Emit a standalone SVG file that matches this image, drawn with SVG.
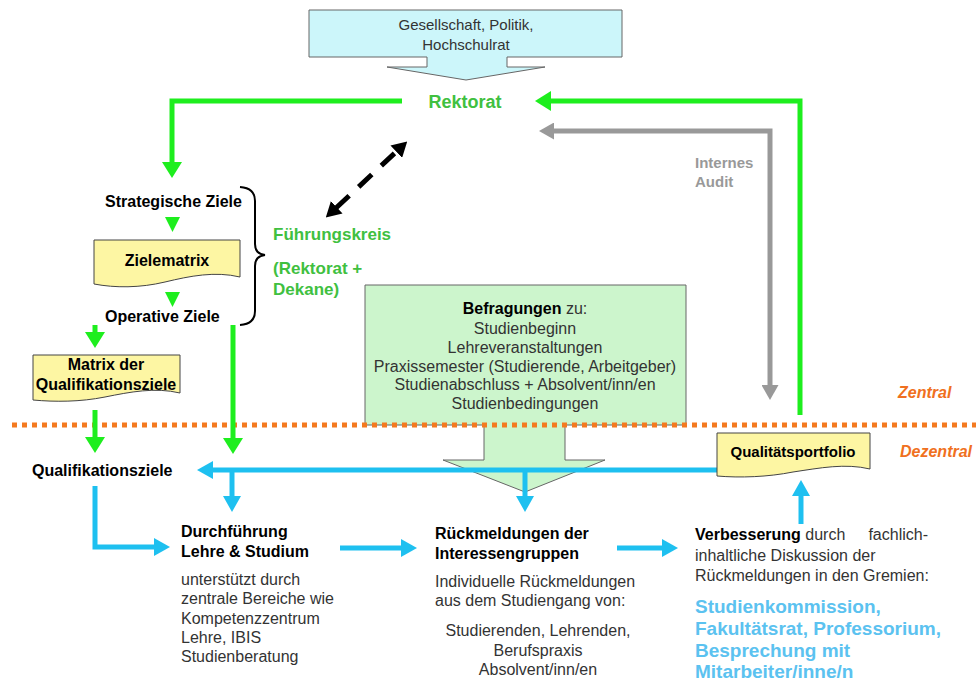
<svg xmlns="http://www.w3.org/2000/svg" width="976" height="684" viewBox="0 0 976 684">
<defs>
<style>
text{font-family:"Liberation Sans",Arial,sans-serif}
.b{font-weight:bold;fill:#000}
.n{fill:#333}
.f16{font-size:16px}
.f15{font-size:15px}
.gt{fill:#40c040;font-weight:bold}
.bt{fill:#5bc2f0;font-weight:bold;font-size:19px}
.or{fill:#f07020;font-weight:bold;font-style:italic;font-size:16px}
.gl{fill:none;stroke:#1eee1e;stroke-width:5}
.bl{fill:none;stroke:#1ec0f0;stroke-width:5}
.yl{fill:none;stroke:#999;stroke-width:5}
.doc{fill:#fdf6a3;stroke:#444;stroke-width:1}
</style>
<marker id="ag" viewBox="0 0 16 20" refX="1" refY="10" markerWidth="16" markerHeight="20" markerUnits="userSpaceOnUse" orient="auto"><path d="M0,0 L16,10 L0,20 Z" fill="#1eee1e"/></marker>
<marker id="ab" viewBox="0 0 16 18" refX="1" refY="9" markerWidth="16" markerHeight="18" markerUnits="userSpaceOnUse" orient="auto"><path d="M0,0 L16,9 L0,18 Z" fill="#1ec0f0"/></marker>
<marker id="ay" viewBox="0 0 15 17" refX="1" refY="8.5" markerWidth="15" markerHeight="17" markerUnits="userSpaceOnUse" orient="auto-start-reverse"><path d="M0,0 L15,8.5 L0,17 Z" fill="#999"/></marker>
<marker id="ak" viewBox="0 0 15 17" refX="1" refY="8.5" markerWidth="15" markerHeight="17" markerUnits="userSpaceOnUse" orient="auto-start-reverse"><path d="M0,0 L15,8.5 L0,17 Z" fill="#000"/></marker>
</defs>

<g id="gesellschaft">
<path d="M309,10 H622 V57 H507 V67 H545 L466,80 L387,67 H427 V57 H309 Z" fill="#ccf6fa" stroke="#666" stroke-width="1"/>
<text class="n f15" x="466" y="30" text-anchor="middle">Gesellschaft, Politik,</text>
<text class="n f15" x="466" y="50" text-anchor="middle">Hochschulrat</text>
</g>

<g id="befragungen">
<path d="M365,285 H686 V425 H565 V460 H605 L525,492 L443,460 H484 V425 H365 Z" fill="#ccf5cc" stroke="#666" stroke-width="1"/>
<text class="f16" x="525" y="314" text-anchor="middle"><tspan class="b">Befragungen</tspan><tspan class="n"> zu:</tspan></text>
<text class="n f16" x="525" y="334" text-anchor="middle">Studienbeginn</text>
<text class="n f16" x="525" y="353" text-anchor="middle">Lehreveranstaltungen</text>
<text class="n f16" x="525" y="372" text-anchor="middle">Praxissemester (Studierende, Arbeitgeber)</text>
<text class="n f16" x="525" y="390" text-anchor="middle">Studienabschluss + Absolvent/inn/en</text>
<text class="n f16" x="525" y="409" text-anchor="middle">Studienbedingungen</text>
</g>

<g id="zonen">
<line x1="12" y1="425" x2="976" y2="425" stroke="#f47a20" stroke-width="5" stroke-dasharray="5,5"/>
<text class="or" x="898" y="398">Zentral</text>
<text class="or" x="900" y="457">Dezentral</text>
</g>

<g id="connectors">
<path class="gl" d="M402,101 H172 V163" marker-end="url(#ag)"/>
<path class="gl" d="M800,415 V101 H550" marker-end="url(#ag)"/>
<path class="gl" d="M233,325 V439" marker-end="url(#ag)"/>
<path class="gl" d="M95,325 V333" marker-end="url(#ag)"/>
<path class="gl" d="M95,410 V438" marker-end="url(#ag)"/>
<polygon points="165,217 180,217 172.5,232" fill="#1eee1e"/>
<polygon points="165,292 180,292 172.5,307" fill="#1eee1e"/>
<path class="yl" d="M553,131 H770 V386" marker-start="url(#ay)" marker-end="url(#ay)"/>
<line x1="336" y1="208" x2="397" y2="151" stroke="#000" stroke-width="5" stroke-dasharray="18,13" marker-start="url(#ak)" marker-end="url(#ak)"/>
<path class="bl" d="M718,470 H212" marker-end="url(#ab)"/>
<path class="bl" d="M232,470 V497" marker-end="url(#ab)"/>
<path class="bl" d="M525,470 V497" marker-end="url(#ab)"/>
<path class="bl" d="M95,486 V547 H155" marker-end="url(#ab)"/>
<path class="bl" d="M340,548 H402" marker-end="url(#ab)"/>
<path class="bl" d="M617,548 H663" marker-end="url(#ab)"/>
<path class="bl" d="M801,524 V495" marker-end="url(#ab)"/>
</g>

<g id="rektorat">
<text class="gt" x="465" y="108" text-anchor="middle" font-size="18">Rektorat</text>
</g>

<g id="internes-audit">
<text x="695" y="168" fill="#999" font-weight="bold" font-size="15">Internes</text>
<text x="695" y="187" fill="#999" font-weight="bold" font-size="15">Audit</text>
</g>

<g id="fuehrungskreis">
<path d="M240,187 Q255,188 255,201 V244 Q255,254 265,255 Q255,256 255,266 V311 Q255,324 240,325" fill="none" stroke="#000" stroke-width="2"/>
<text class="gt" x="273" y="240" font-size="17">Führungskreis</text>
<text class="gt" x="273" y="274" font-size="17">(Rektorat +</text>
<text class="gt" x="273" y="295" font-size="17">Dekane)</text>
</g>

<g id="strategische-ziele">
<text class="b f16" x="105" y="207">Strategische Ziele</text>
</g>

<g id="zielematrix">
<path class="doc" d="M94,240 H240 V277 C215,271 190,276 165,282 C140,288 115,288 94,284 Z"/>
<text class="b f16" x="167" y="266" text-anchor="middle">Zielematrix</text>
</g>

<g id="operative-ziele">
<text class="b f16" x="105" y="322">Operative Ziele</text>
</g>

<g id="matrix-qualifikationsziele">
<path class="doc" d="M33,355 H180 V393 C155,387 130,392 105,397 C80,402 55,402 33,400 Z"/>
<text class="b f16" x="106" y="370" text-anchor="middle">Matrix der</text>
<text class="b f16" x="106" y="390" text-anchor="middle">Qualifikationsziele</text>
</g>

<g id="qualifikationsziele">
<text class="b f16" x="32" y="476">Qualifikationsziele</text>
</g>

<g id="qualitaetsportfolio">
<path class="doc" d="M717,433 H870 V469 C845,463 820,468 793,472 C768,477 740,478 717,476 Z"/>
<text class="b f15" x="793" y="457" text-anchor="middle">Qualitätsportfolio</text>
</g>

<g id="durchfuehrung">
<text class="b f16" x="181" y="537">Durchführung</text>
<text class="b f16" x="181" y="557">Lehre &amp; Studium</text>
<text class="n f16" x="181" y="585">unterstützt durch</text>
<text class="n f16" x="181" y="604">zentrale Bereiche wie</text>
<text class="n f16" x="181" y="624">Kompetenzzentrum</text>
<text class="n f16" x="181" y="643">Lehre, IBIS</text>
<text class="n f16" x="181" y="662">Studienberatung</text>
</g>

<g id="rueckmeldungen">
<text class="b f16" x="435" y="539">Rückmeldungen der</text>
<text class="b f16" x="435" y="559">Interessengruppen</text>
<text class="n f16" x="435" y="587">Individuelle Rückmeldungen</text>
<text class="n f16" x="435" y="606">aus dem Studiengang von:</text>
<text class="n f16" x="538" y="636" text-anchor="middle">Studierenden, Lehrenden,</text>
<text class="n f16" x="538" y="656" text-anchor="middle">Berufspraxis</text>
<text class="n f16" x="538" y="675" text-anchor="middle">Absolvent/inn/en</text>
</g>

<g id="verbesserung">
<text class="f16" x="695" y="540"><tspan class="b">Verbesserung</tspan><tspan class="n"> durch</tspan></text>
<text class="n f16" x="928" y="540" text-anchor="end">fachlich-</text>
<text class="n f16" x="695" y="561">inhaltliche Diskussion der</text>
<text class="n f16" x="695" y="581">Rückmeldungen in den Gremien:</text>
<text class="bt" x="695" y="613">Studienkommission,</text>
<text class="bt" x="695" y="635">Fakultätsrat, Professorium,</text>
<text class="bt" x="695" y="657">Besprechung mit</text>
<text class="bt" x="695" y="678">Mitarbeiter/inne/n</text>
</g>
</svg>
